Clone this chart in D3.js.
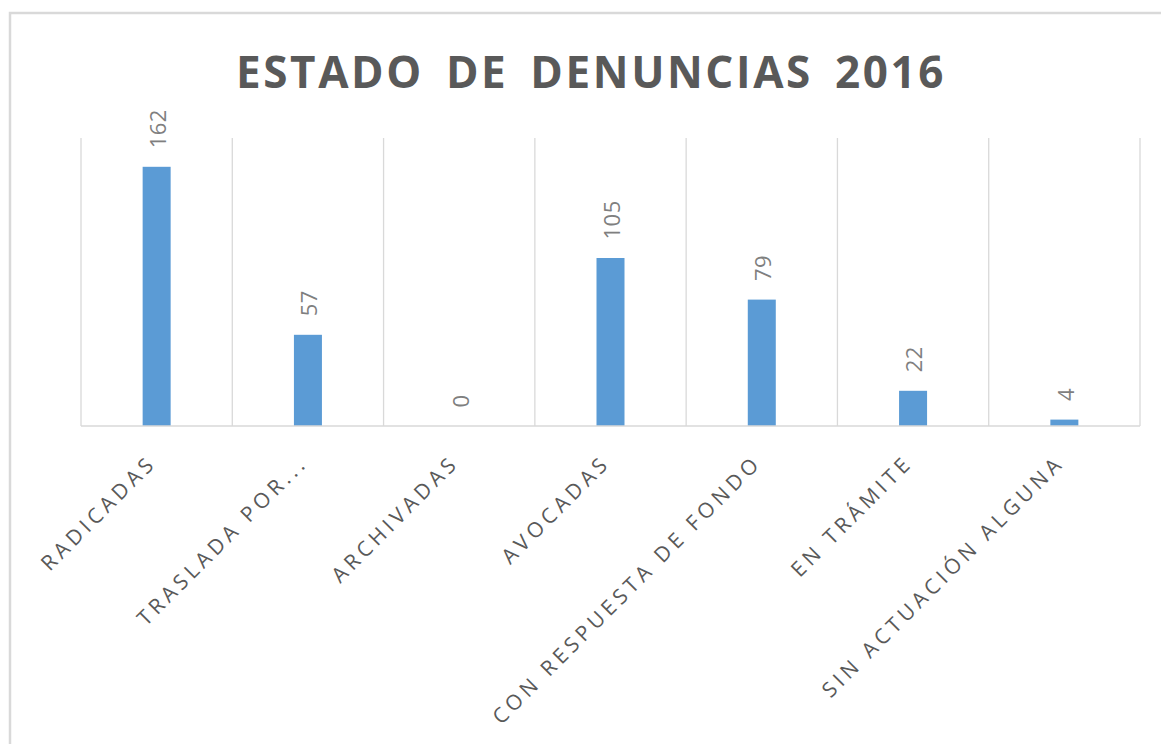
<!DOCTYPE html>
<html>
<head>
<meta charset="utf-8">
<script src="https://cdn.jsdelivr.net/npm/d3@7"></script>
<style>
  body { margin: 0; background: #fff; }
  svg { display: block; }
</style>
</head>
<body>
<svg></svg>
<script>
var width = 1161;
var height = 744;

var titulo = "ESTADO DE DENUNCIAS 2016";
var categorias = ["RADICADAS", "TRASLADA POR...", "ARCHIVADAS", "AVOCADAS",
  "CON RESPUESTA DE FONDO", "EN TRÁMITE", "SIN ACTUACIÓN ALGUNA"];
var valores = [162, 57, 0, 105, 79, 22, 4];

var svg = d3.select("svg")
    .attr("width", width)
    .attr("height", height);

// marco del grafico
svg.append("rect")
    .attr("x", 10).attr("y", 13)
    .attr("width", 1300).attr("height", 900)
    .attr("fill", "#fff")
    .attr("stroke", "#d9d9d9")
    .attr("stroke-width", 2.5);

svg.append("text")
    .attr("x", 591)
    .attr("y", 88)
    .attr("text-anchor", "middle")
    .style("font-family", "'Open Sans', sans-serif")
    .style("font-weight", "bold")
    .style("font-size", "44px")
    .style("letter-spacing", "2.6px")
    .style("word-spacing", "8px")
    .attr("fill", "#595959")
    .text(titulo);

var x = d3.scaleBand()
    .domain(categorias)
    .range([81, 1140])
    .padding(0);

var y = d3.scaleLinear()
    .domain([0, 180])
    .range([426, 138]);

var barW = 28;

// lineas verticales entre categorias
var bordes = categorias.map(function(d) { return x(d); });
bordes.push(x(categorias[categorias.length - 1]) + x.bandwidth());

svg.selectAll(".grid")
    .data(bordes)
    .enter().append("line")
    .attr("class", "grid")
    .attr("x1", function(d) { return d; })
    .attr("x2", function(d) { return d; })
    .attr("y1", y(180))
    .attr("y2", y(0))
    .attr("stroke", "#d9d9d9")
    .attr("stroke-width", 1.3);

svg.selectAll(".bar")
    .data(valores)
    .enter().append("rect")
    .attr("class", "bar")
    .attr("x", function(d, i) { return x(categorias[i]) + x.bandwidth() / 2 - barW / 2; })
    .attr("y", function(d) { return y(d); })
    .attr("width", barW)
    .attr("height", function(d) { return y(0) - y(d); })
    .attr("fill", "#5b9bd5");

// eje x
svg.append("line")
    .attr("x1", x.range()[0]).attr("x2", x.range()[1])
    .attr("y1", y(0)).attr("y2", y(0))
    .attr("stroke", "#d9d9d9")
    .attr("stroke-width", 1.5);

// etiquetas de valor
svg.selectAll(".val")
    .data(valores)
    .enter().append("text")
    .attr("class", "val")
    .attr("transform", function(d, i) {
        var cx = x(categorias[i]) + x.bandwidth() / 2;
        return "translate(" + (cx + 1.5) + "," + (y(d) - 18.5) + ") rotate(-90)";
    })
    .attr("dy", "0.36em")
    .attr("text-anchor", "start")
    .style("font-family", "'Open Sans', sans-serif")
    .style("font-size", "22px")
    .style("letter-spacing", "0.5px")
    .attr("fill", "#7f7f7f")
    .text(function(d) { return d; });

// etiquetas de categoria
svg.selectAll(".cat")
    .data(categorias)
    .enter().append("text")
    .attr("class", "cat")
    .attr("transform", function(d) {
        var cx = x(d) + x.bandwidth() / 2;
        return "translate(" + (cx + 1) + "," + 464 + ") rotate(-45)";
    })
    .attr("text-anchor", "end")
    .style("font-family", "'Open Sans', sans-serif")
    .style("font-size", "21px")
    .style("letter-spacing", "4.3px")
    .attr("fill", "#595959")
    .text(function(d) { return d; });
</script>
</body>
</html>
